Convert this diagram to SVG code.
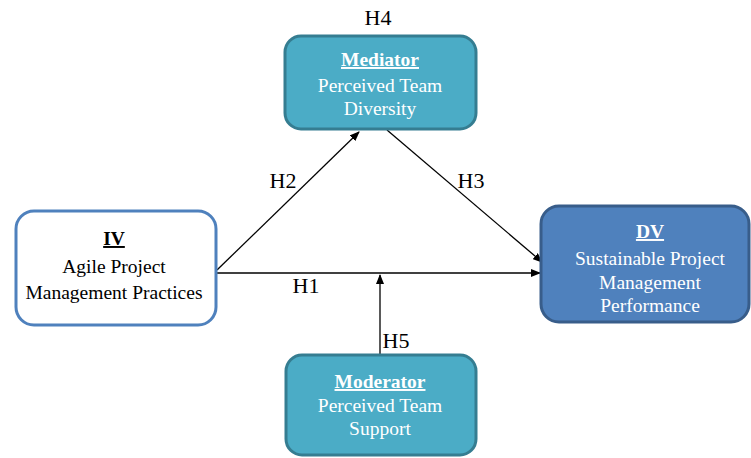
<svg xmlns="http://www.w3.org/2000/svg" width="751" height="458" viewBox="0 0 751 458" font-family="'Liberation Serif', 'DejaVu Serif', 'Times New Roman', serif">
<defs>
<marker id="arr" markerWidth="10" markerHeight="8" refX="9" refY="4" orient="auto" markerUnits="userSpaceOnUse">
<path d="M0,0 L10,4 L0,8 Z" fill="#000"/>
</marker>
<style>
text{font-family:'Liberation Serif','DejaVu Serif','Times New Roman',serif;font-size:19.5px;text-anchor:middle}
.lbl{fill:#000;font-size:22px}
.w{fill:#fff}
.b{fill:#000}
.h{font-weight:bold;text-decoration:underline}
.teal{fill:#4BACC6;stroke:#357D91;stroke-width:3}
.conn{stroke:#000;stroke-width:1.3;fill:none}
</style>
</defs>
<g id="connectors">
<line class="conn" x1="217" y1="273" x2="540" y2="273" marker-end="url(#arr)"/>
<line class="conn" x1="217" y1="270" x2="359" y2="132" marker-end="url(#arr)"/>
<line class="conn" x1="387" y1="130" x2="542" y2="262" marker-end="url(#arr)"/>
<line class="conn" x1="380" y1="355" x2="380" y2="275" marker-end="url(#arr)"/>
<text class="lbl" x="378" y="25">H4</text>
<text class="lbl" x="283" y="188">H2</text>
<text class="lbl" x="471" y="188">H3</text>
<text class="lbl" x="306" y="293">H1</text>
<text class="lbl" x="396" y="348">H5</text>
</g>
<g id="mediator">
<rect class="teal" x="285" y="36" width="191" height="93" rx="16"/>
<text class="w h" x="380" y="66">Mediator</text>
<text class="w" x="380" y="92">Perceived Team</text>
<text class="w" x="380" y="115">Diversity</text>
</g>
<g id="iv">
<rect x="16" y="211" width="200" height="114" rx="18" fill="#fff" stroke="#4F81BD" stroke-width="3"/>
<text class="b h" x="114" y="245">IV</text>
<text class="b" x="114" y="273">Agile Project</text>
<text class="b" x="114" y="299">Management Practices</text>
</g>
<g id="dv">
<rect x="541" y="206" width="208" height="116" rx="18" fill="#4F81BD" stroke="#385D8A" stroke-width="3"/>
<text class="w h" x="650" y="238">DV</text>
<text class="w" x="650" y="265">Sustainable Project</text>
<text class="w" x="650" y="289">Management</text>
<text class="w" x="650" y="312">Performance</text>
</g>
<g id="moderator">
<rect class="teal" x="286" y="355" width="190" height="100" rx="16"/>
<text class="w h" x="380" y="388">Moderator</text>
<text class="w" x="380" y="412">Perceived Team</text>
<text class="w" x="380" y="435">Support</text>
</g>
</svg>
